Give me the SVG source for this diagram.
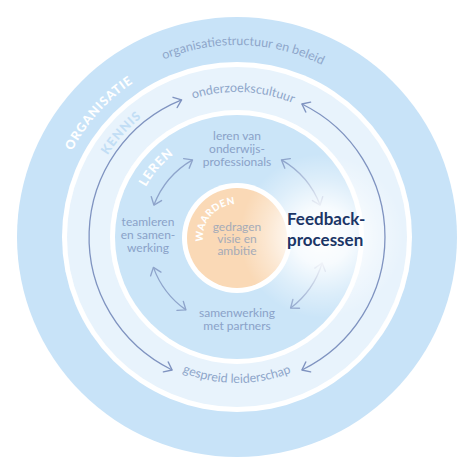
<svg xmlns="http://www.w3.org/2000/svg" width="474" height="474" viewBox="0 0 474 474">
<defs>
<style>
.lbl{font-family:Lato,"Open Sans","DejaVu Sans",sans-serif;font-size:12px;fill:#8aa2c8;text-anchor:middle}
.arc{font-family:Lato,"Open Sans","DejaVu Sans",sans-serif;font-size:12.5px;fill:#8ea6ca}
.cap{font-family:Lato,"Open Sans","DejaVu Sans",sans-serif;font-weight:900;font-size:12.5px;letter-spacing:1px}
.fb{font-family:Lato,"Open Sans","DejaVu Sans",sans-serif;font-weight:bold;font-size:17px;fill:#1b3566}
.in{fill:none;stroke:#8ea4cb;stroke-width:1.3;marker-start:url(#ah);marker-end:url(#ah)}
.out{fill:none;stroke:#7f93c0;stroke-width:1.3;marker-start:url(#ah2);marker-end:url(#ah2)}
</style>
<marker id="ah" markerUnits="userSpaceOnUse" viewBox="-10 -10 20 20" markerWidth="20" markerHeight="20" orient="auto-start-reverse">
<path d="M-7,-5.5 L0,0 L-7,5.5" fill="none" stroke="#8ea4cb" stroke-width="1.4" stroke-linecap="round" stroke-linejoin="round"/>
</marker>
<marker id="ah2" markerUnits="userSpaceOnUse" viewBox="-10 -10 20 20" markerWidth="20" markerHeight="20" orient="auto-start-reverse">
<path d="M-7,-5.5 L0,0 L-7,5.5" fill="none" stroke="#7f93c0" stroke-width="1.4" stroke-linecap="round" stroke-linejoin="round"/>
</marker>
<radialGradient id="glow" cx="322" cy="236" r="82" gradientUnits="userSpaceOnUse">
<stop offset="0" stop-color="#ffffff" stop-opacity="1"/>
<stop offset="0.35" stop-color="#ffffff" stop-opacity="0.85"/>
<stop offset="0.7" stop-color="#ffffff" stop-opacity="0.35"/>
<stop offset="1" stop-color="#ffffff" stop-opacity="0"/>
</radialGradient>
<path id="pOrgTxt" d="M45,237 A192,192 0 0 1 429,237"/>
<path id="pOndTxt" d="M92,237 A145,145 0 0 1 382,237"/>
<path id="pGesTxt" d="M91,237 A146,146 0 0 0 383,237"/>
<path id="pOrgCap" d="M51,237 A186,186 0 0 1 423,237"/>
<path id="pKenCap" d="M84,237 A153,153 0 0 1 390,237"/>
<path id="pLerCap" d="M133,237 A104,104 0 0 1 341,237"/>
<path id="pWaaCap" d="M203,238 A34,34 0 0 1 271,238"/>
</defs>
<rect width="474" height="474" fill="#ffffff"/>
<g id="organisatie">
<circle cx="237" cy="237" r="220" fill="#c8e3f8"/>
<circle cx="237" cy="237" r="175" fill="#ffffff"/>
</g>
<g id="kennis">
<circle cx="237" cy="237" r="170" fill="#e8f3fc"/>
<circle cx="237" cy="237" r="127" fill="#ffffff"/>
</g>
<g id="leren">
<circle cx="237" cy="237" r="122" fill="#cbe5f8"/>
</g>
<g id="waarden">
<circle cx="237" cy="238" r="55" fill="#ffffff"/>
<circle cx="237" cy="238" r="50" fill="#fad9b6"/>
</g>
<g id="connectors">
<path class="in" d="M192.5,159.9 A89,89 0 0 0 153.9,205.1"/>
<path class="in" d="M153.4,267.4 A89,89 0 0 0 185.9,309.9"/>
<path class="in" d="M290.6,308.1 A89,89 0 0 0 322.1,263.0"/>
<path class="in" d="M320.1,205.1 A89,89 0 0 0 281.5,159.9"/>
</g>
<g id="glow-layer">
<circle cx="322" cy="236" r="82" fill="url(#glow)"/>
</g>
<g id="outer-connectors">
<path class="out" d="M181.6,99.8 A148,148 0 0 0 172.1,370.0"/>
<path class="out" d="M301.9,104.0 A148,148 0 0 1 301.9,370.0"/>
</g>
<g id="ring-labels">
<text class="cap" fill="#ffffff"><textPath href="#pOrgCap" startOffset="136" text-anchor="middle">ORGANISATIE</textPath></text>
<text class="cap" fill="#c2def5" letter-spacing="1.5"><textPath href="#pKenCap" startOffset="112" text-anchor="middle">KENNIS</textPath></text>
<text class="cap" fill="#ffffff"><textPath href="#pLerCap" startOffset="74" text-anchor="middle">LEREN</textPath></text>
<text class="cap" fill="#ffffff" style="font-size:10px;letter-spacing:0.5px"><textPath href="#pWaaCap" startOffset="24" text-anchor="middle">WAARDEN</textPath></text>
</g>
<g id="node-organisatiestructuur">
<text class="arc"><textPath href="#pOrgTxt" startOffset="308" text-anchor="middle">organisatiestructuur en beleid</textPath></text>
</g>
<g id="node-onderzoekscultuur">
<text class="arc"><textPath href="#pOndTxt" startOffset="234" text-anchor="middle">onderzoekscultuur</textPath></text>
</g>
<g id="node-gespreid">
<text class="arc"><textPath href="#pGesTxt" startOffset="229" text-anchor="middle">gespreid leiderschap</textPath></text>
</g>
<g id="node-leren-van">
<text class="lbl" x="237" y="140">leren van</text>
<text class="lbl" x="237" y="153">onderwijs-</text>
<text class="lbl" x="237" y="166">professionals</text>
</g>
<g id="node-teamleren">
<text class="lbl" x="148" y="226">teamleren</text>
<text class="lbl" x="148" y="239">en samen-</text>
<text class="lbl" x="148" y="252">werking</text>
</g>
<g id="node-samenwerking">
<text class="lbl" x="237" y="317">samenwerking</text>
<text class="lbl" x="237" y="330">met partners</text>
</g>
<g id="node-waarden">
<text class="lbl" x="237" y="231" style="fill:#a5abb8">gedragen</text>
<text class="lbl" x="237" y="243" style="fill:#a5abb8">visie en</text>
<text class="lbl" x="237" y="255" style="fill:#a5abb8">ambitie</text>
</g>
<g id="node-feedback">
<text class="fb" x="287" y="225">Feedback-</text>
<text class="fb" x="287" y="246">processen</text>
</g>
</svg>
